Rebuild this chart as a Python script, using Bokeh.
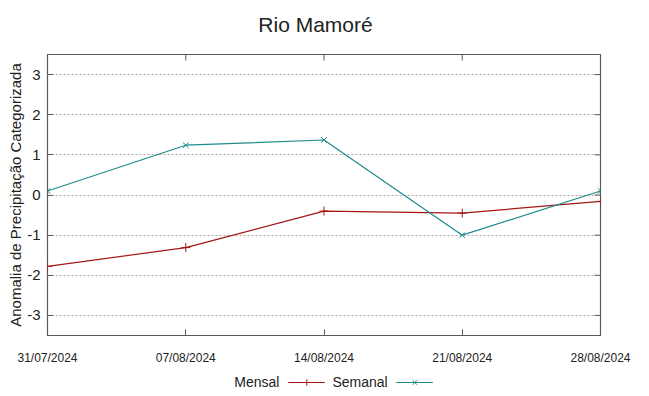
from datetime import datetime
import math
from bokeh.plotting import figure
from bokeh.layouts import column
from bokeh.models import (ColumnDataSource, Legend, LegendItem, FixedTicker,
                          DatetimeTickFormatter, Range1d, Div)
from bokeh.embed import file_html
from bokeh.resources import INLINE

title = "Rio Mamoré"
dates = ["31/07/2024", "07/08/2024", "14/08/2024", "21/08/2024", "28/08/2024"]
mensal = [-1.78, -1.31, -0.40, -0.45, -0.16]
semanal = [0.10, 1.24, 1.37, -1.00, 0.10]
y_ticks = [-3, -2, -1, 0, 1, 2, 3]
y_tick_labels = ["-3", "-2", "-1", "0", "1", "2", "3"]
y_min, y_max = -3.5, 3.5
series_names = ["Mensal", "Semanal"]

x = [datetime.strptime(d, "%d/%m/%Y") for d in dates]
x_ms = [dt.timestamp() * 1000 for dt in x]

src = ColumnDataSource(dict(x=x, mensal=mensal, semanal=semanal))

RED = "#a31616"
TEAL = "#1f8a8a"
FRAME = "#5a5a5a"
FONT = "Liberation Sans"
W = 633

# ---- title strip ----
head = Div(text=('<div style="font-family:\'Liberation Sans\';font-size:21px;'
                 'text-align:center;line-height:24px;padding-top:8px;color:#222222;'
                 'width:%dpx">%s</div>' % (W - 12, title)),
           width=W, height=30)

p = figure(width=W, height=328, output_backend="svg", toolbar_location=None,
           x_axis_type="datetime",
           x_range=Range1d(x[0], x[-1]), y_range=Range1d(y_min, y_max),
           min_border_left=47, min_border_right=33, min_border_top=14, min_border_bottom=33)

p.outline_line_color = FRAME
p.outline_line_width = 1.2
p.background_fill_color = "white"
p.border_fill_color = "white"

# grid
p.xgrid.visible = False
p.ygrid.ticker = FixedTicker(ticks=y_ticks)
p.ygrid.grid_line_color = "#a8a8a8"
p.ygrid.grid_line_dash = "2 2"
p.ygrid.grid_line_width = 1

# left axis
ya = p.yaxis[0]
ya.ticker = FixedTicker(ticks=y_ticks)
ya.major_label_overrides = dict(zip(y_ticks, y_tick_labels))
ya.axis_label = "Anomalia de Precipitação Categorizada"
ya.axis_label_text_font = FONT
ya.axis_label_text_font_size = "15px"
ya.axis_label_text_font_style = "normal"
ya.axis_label_text_color = "#222222"
ya.axis_label_standoff = 0
ya.major_label_text_font = FONT
ya.major_label_text_font_size = "15px"
ya.major_label_text_color = "#222222"
ya.major_label_standoff = 7
ya.major_tick_in = 6
ya.major_tick_out = 0
ya.minor_tick_in = 0
ya.minor_tick_out = 0
ya.axis_line_color = None
ya.major_tick_line_color = FRAME

# bottom axis
xa = p.xaxis[0]
xa.ticker = FixedTicker(ticks=x_ms)
xa.formatter = DatetimeTickFormatter(days="%d/%m/%Y", months="%d/%m/%Y", hours="%d/%m/%Y")
xa.major_label_text_font = FONT
xa.major_label_text_font_size = "12px"
xa.major_label_text_color = "#222222"
xa.major_label_standoff = 15
xa.major_tick_in = 6
xa.major_tick_out = 0
xa.minor_tick_in = 0
xa.minor_tick_out = 0
xa.axis_line_color = None
xa.major_tick_line_color = FRAME

# mirrored tick marks on the right and top frame edges (half of each dash is clipped)
p.scatter(x=[x[-1]] * len(y_ticks), y=y_ticks, marker="dash", size=12,
          line_color=FRAME, line_width=1)
p.scatter(x=x, y=[y_max] * len(x), marker="dash", size=12, angle=math.pi / 2,
          line_color=FRAME, line_width=1)

# series
p.line("x", "mensal", source=src, line_color=RED, line_width=1.2)
p.scatter("x", "mensal", source=src, marker="cross", size=9, line_color=RED, line_width=1)
p.line("x", "semanal", source=src, line_color=TEAL, line_width=1.2)
p.scatter("x", "semanal", source=src, marker="x", size=8, line_color=TEAL, line_width=1)

# ---- legend strip below the chart (gnuplot style: "text  sample") ----
lg = figure(width=W, height=28, output_backend="svg", toolbar_location=None,
            x_range=Range1d(0, 1), y_range=Range1d(0, 1),
            x_axis_location=None, y_axis_location=None,
            min_border=0, outline_line_color=None)
lg.xgrid.visible = False
lg.ygrid.visible = False
nan = float("nan")
spacer = lg.line(x=[0], y=[nan], line_alpha=0)
lm = lg.line(x=[0], y=[nan], line_color=RED, line_width=1.2)
ls = lg.scatter(x=[0], y=[nan], marker="cross", size=9, line_color=RED, line_width=1)
tm = lg.line(x=[0], y=[nan], line_color=TEAL, line_width=1.2)
ts = lg.scatter(x=[0], y=[nan], marker="x", size=8, line_color=TEAL, line_width=1)

legend = Legend(items=[
    LegendItem(label=series_names[0], renderers=[spacer]),
    LegendItem(label=series_names[1], renderers=[lm, ls]),
    LegendItem(label="", renderers=[tm, ts]),
], orientation="horizontal", location="center",
    glyph_width=37, glyph_height=16, label_standoff=8, spacing=8, label_width=17,
    padding=0, margin=0, border_line_color=None, background_fill_alpha=0,
    label_text_font=FONT, label_text_font_size="14px", label_text_color="#222222")
lg.add_layout(legend)

layout = column(head, p, lg, spacing=0)
open("out.html", "w").write(file_html(layout, INLINE))
